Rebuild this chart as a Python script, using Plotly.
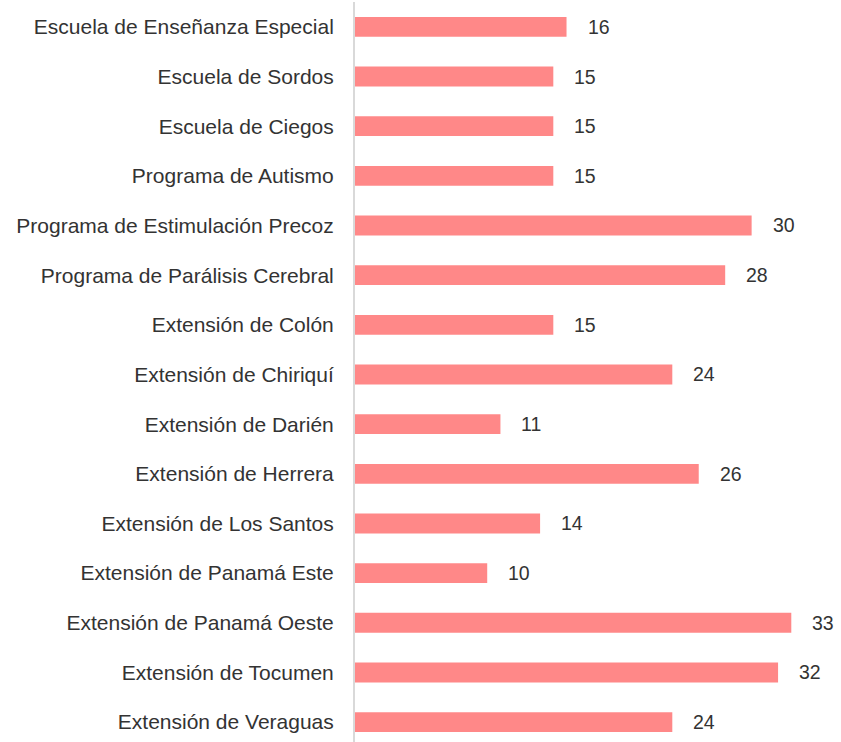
import plotly.graph_objects as go

categories = [
    "Escuela de Enseñanza Especial",
    "Escuela de Sordos",
    "Escuela de Ciegos",
    "Programa de Autismo",
    "Programa de Estimulación Precoz",
    "Programa de Parálisis Cerebral",
    "Extensión de Colón",
    "Extensión de Chiriquí",
    "Extensión de Darién",
    "Extensión de Herrera",
    "Extensión de Los Santos",
    "Extensión de Panamá Este",
    "Extensión de Panamá Oeste",
    "Extensión de Tocumen",
    "Extensión de Veraguas",
]
values = [16, 15, 15, 15, 30, 28, 15, 24, 11, 26, 14, 10, 33, 32, 24]

BAR_COLOR = "#FF8888"
TEXT_COLOR = "#333333"
FONT = "Liberation Sans, Arial, sans-serif"

fig = go.Figure(
    go.Bar(
        x=values,
        y=categories,
        orientation="h",
        marker=dict(color=BAR_COLOR, line=dict(width=0)),
        hoverinfo="x+y",
    )
)

for c, v in zip(categories, values):
    fig.add_annotation(
        x=v, y=c, text=str(v), showarrow=False,
        xanchor="left", yanchor="middle", xshift=19,
        font=dict(family=FONT, size=19.5, color=TEXT_COLOR),
    )

fig.update_layout(
    width=841, height=742,
    margin=dict(l=355, r=0, t=2, b=0),
    paper_bgcolor="white", plot_bgcolor="white",
    bargap=0.6,
    showlegend=False,
    font=dict(family=FONT, size=21, color=TEXT_COLOR),
)
fig.update_xaxes(
    range=[0, 36.76], visible=False, showgrid=False, zeroline=False,
)
fig.update_yaxes(
    range=[14.4, -0.5], showgrid=False, zeroline=False,
    showline=True, linecolor="#d9d9d9", linewidth=2,
    ticks="", ticklabelstandoff=15,
    tickfont=dict(family=FONT, size=21, color=TEXT_COLOR),
)

fig.write_html(
    "out.html",
    config={"displayModeBar": False},
    post_script="document.body.style.margin='0';document.body.style.overflow='hidden';",
)
